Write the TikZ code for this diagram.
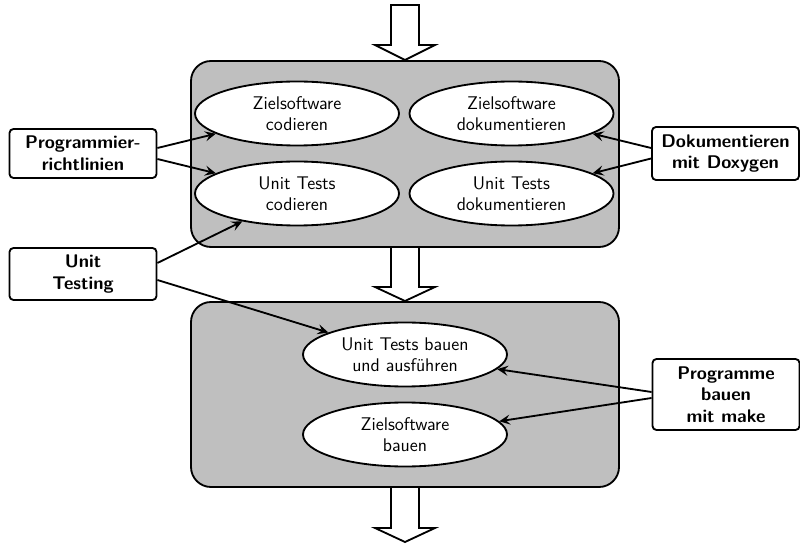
\documentclass[tikz,border=0pt]{standalone}
\usepackage{fontspec}
\usetikzlibrary{shapes.geometric,arrows.meta}
\begin{document}
\begin{tikzpicture}[x=0.6pt,y=-0.6pt,
  font=\sffamily\fontsize{11}{12.8}\selectfont,
  every path/.style={line width=1.1pt},
  phase/.style={draw, fill=black!25, rounded corners=12pt, minimum width=256.8pt},
  task/.style={draw, ellipse, fill=white, align=center, inner sep=0pt, minimum width=122.4pt, minimum height=38.4pt},
  tool/.style={draw, fill=white, rounded corners=2.4pt, align=center, font=\sffamily\bfseries\fontsize{11}{13}\selectfont, minimum width=88.2pt, inner sep=1pt},
  blockarrow/.style={draw, fill=white, line width=1.1pt, line join=miter},
  conn/.style={-{Stealth[length=6.5pt,width=6pt,inset=2.5pt]}, line width=1.1pt}
]
\useasboundingbox (0,0) rectangle (800,544);

% phases
\node[phase, minimum height=111.6pt] (p1) at (405,154) {};
\node[phase, minimum height=111pt] (p2) at (405,394.5) {};

% block arrows
\draw[blockarrow] (391,5) -- (391,45) -- (375,45) -- (405,60) -- (435,45) -- (419,45) -- (419,5) -- cycle;
\draw[blockarrow] (391,247) -- (391,287) -- (375,287) -- (405,301) -- (435,287) -- (419,287) -- (419,247) -- cycle;
\draw[blockarrow] (391,487) -- (391,528) -- (375,528) -- (405,542) -- (435,528) -- (419,528) -- (419,487) -- cycle;

% tasks
\node[task] (zc) at (297,113.5) {Zielsoftware\\codieren};
\node[task] (uc) at (297,193.5) {Unit Tests\\codieren};
\node[task] (zd) at (511.5,113.5) {Zielsoftware\\dokumentieren};
\node[task] (ud) at (511.5,193.5) {Unit Tests\\dokumentieren};
\node[task] (ub) at (405,354.5) {Unit Tests bauen\\und ausführen};
\node[task] (zb) at (405,434.5) {Zielsoftware\\bauen};

% tools
\node[tool, minimum height=29.4pt] (pr) at (83,153.5) {Programmier-\\richtlinien};
\node[tool, minimum height=31.2pt] (ut) at (83,274) {Unit\\Testing};
\node[tool, minimum height=31.8pt] (dx) at (725.5,153.5) {Dokumentieren\\mit Doxygen};
\node[tool, minimum height=42.6pt] (mk) at (726,394.5) {Programme\\bauen\\mit make};

% connectors
\draw[conn] ([yshift=3.3pt]pr.east) -- (zc.194);
\draw[conn] ([yshift=-3.3pt]pr.east) -- (uc.166);
\draw[conn] ([yshift=6.6pt]ut.east) -- (uc.207);
\draw[conn] ([yshift=-3.6pt]ut.east) -- (ub.164);
\draw[conn] ([yshift=3.3pt]dx.west) -- (zd.346.5);
\draw[conn] ([yshift=-3pt]dx.west) -- (ud.14);
\draw[conn] ([yshift=1.5pt]mk.west) -- (ub.351.7);
\draw[conn] ([yshift=-2.1pt]mk.west) -- (zb.8.8);
\end{tikzpicture}
\end{document}
